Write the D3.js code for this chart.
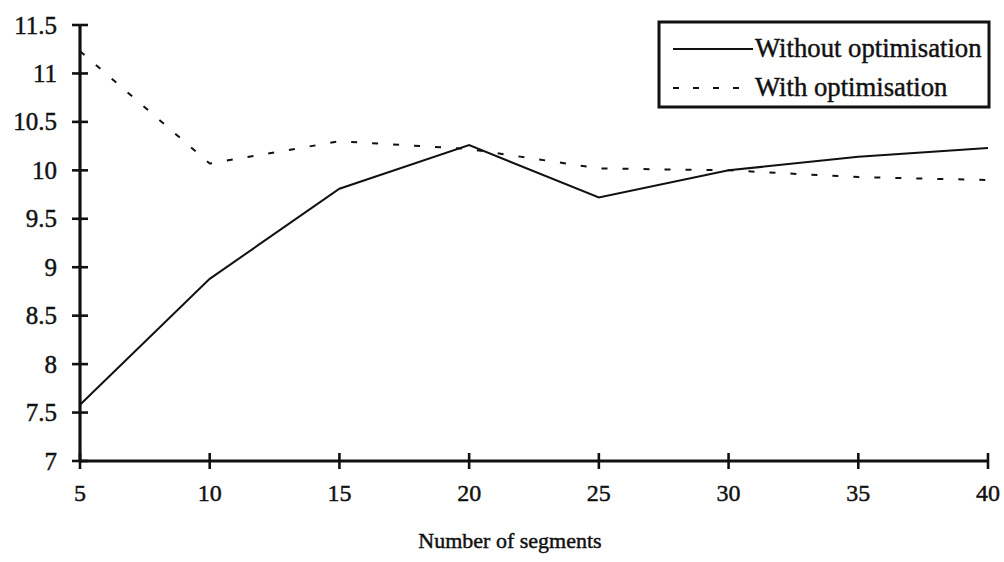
<!DOCTYPE html>
<html><head><meta charset="utf-8">
<script src="https://cdn.jsdelivr.net/npm/d3@7"></script>
<style>body{margin:0;background:#fff}svg{display:block}</style>
</head><body>
<svg id="c" width="1004" height="562"></svg>
<script>
const segments = [5, 10, 15, 20, 25, 30, 35, 40];
const withoutOpt = [7.58, 8.88, 9.81, 10.26, 9.72, 10.0, 10.14, 10.23];
const withOpt = [11.23, 10.07, 10.30, 10.22, 10.02, 10.0, 9.93, 9.90];
const yTicks = [7, 7.5, 8, 8.5, 9, 9.5, 10, 10.5, 11, 11.5];
const xTicks = [5, 10, 15, 20, 25, 30, 35, 40];
const seriesNames = ["Without optimisation", "With optimisation"];

const FONT = "'Liberation Serif', 'Times New Roman', Tinos, 'DejaVu Serif', serif";
const svg = d3.select("#c").attr("font-family", FONT);
const x = d3.scaleLinear().domain([5, 40]).range([80, 988]);
const y = d3.scaleLinear().domain([7, 11.5]).range([461, 25]);
const ink = "#111";

function txt(sel) {
  return sel.attr("font-family", FONT).attr("fill", ink)
    .attr("stroke", ink).attr("stroke-width", 0.45);
}

// Y axis
const gy = svg.append("g");
gy.append("line").attr("x1", x(5)).attr("x2", x(5)).attr("y1", y(7)).attr("y2", y(11.5))
  .attr("stroke", ink).attr("stroke-width", 3.2);
gy.selectAll("line.t").data(yTicks).join("line").attr("class", "t")
  .attr("x1", x(5) - 8).attr("x2", x(5) + 8).attr("y1", d => y(d)).attr("y2", d => y(d))
  .attr("stroke", ink).attr("stroke-width", 2.6);
txt(gy.selectAll("text").data(yTicks).join("text")
  .attr("x", 57).attr("y", d => y(d)).attr("dy", "0.34em").attr("text-anchor", "end")
  .attr("font-size", 25)).text(d => String(d));

// X axis
const gx = svg.append("g");
gx.append("line").attr("x1", x(5)).attr("x2", x(40)).attr("y1", y(7)).attr("y2", y(7))
  .attr("stroke", ink).attr("stroke-width", 3.2);
gx.selectAll("line.t").data(xTicks).join("line").attr("class", "t")
  .attr("x1", d => x(d)).attr("x2", d => x(d)).attr("y1", y(7) - 8).attr("y2", y(7) + 8)
  .attr("stroke", ink).attr("stroke-width", 2.6);
txt(gx.selectAll("text").data(xTicks).join("text")
  .attr("x", d => x(d)).attr("y", 501).attr("text-anchor", "middle")
  .attr("font-size", 24)).text(d => String(d));

txt(svg.append("text").attr("x", 510).attr("y", 548).attr("text-anchor", "middle")
  .attr("font-size", 22)).text("Number of segments");

// Lines
const line = d3.line().x((d, i) => x(segments[i])).y(d => y(d));
svg.append("path").datum(withOpt).attr("d", line).attr("fill", "none")
  .attr("stroke", ink).attr("stroke-width", 2).attr("stroke-dasharray", "6,15");
svg.append("path").datum(withoutOpt).attr("d", line).attr("fill", "none")
  .attr("stroke", ink).attr("stroke-width", 2);

// Legend
const lg = svg.append("g");
lg.append("rect").attr("x", 659).attr("y", 22).attr("width", 330).attr("height", 85)
  .attr("fill", "#fff").attr("stroke", ink).attr("stroke-width", 3);
lg.append("line").attr("x1", 673).attr("x2", 753).attr("y1", 49).attr("y2", 49)
  .attr("stroke", ink).attr("stroke-width", 2);
lg.append("line").attr("x1", 673).attr("x2", 740).attr("y1", 88).attr("y2", 88)
  .attr("stroke", ink).attr("stroke-width", 2).attr("stroke-dasharray", "6,14");
txt(lg.append("text").attr("x", 755).attr("y", 57).attr("font-size", 26.7)).text(seriesNames[0]);
txt(lg.append("text").attr("x", 755).attr("y", 96).attr("font-size", 26.7)).text(seriesNames[1]);
</script>
</body></html>
